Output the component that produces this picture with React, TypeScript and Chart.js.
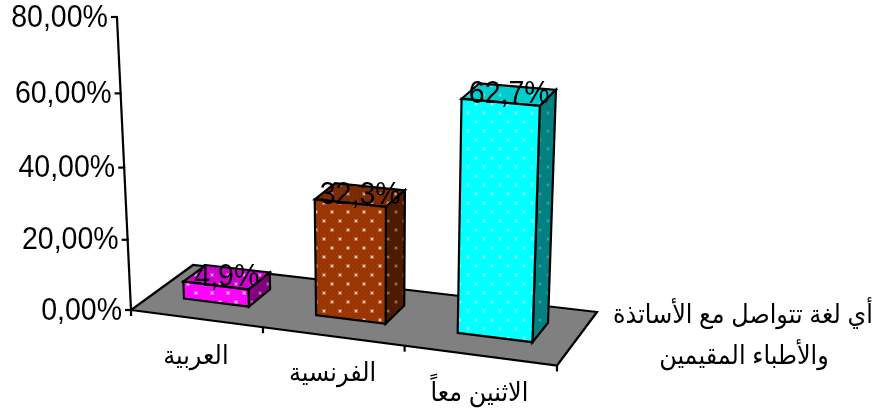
import React, { useEffect, useRef } from "react";
import { Chart, registerables } from "chart.js";

Chart.register(...registerables);

const categories = ["العربية", "الفرنسية", "الاثنين معاً"];
const shares = [4.9, 32.3, 62.7];
const barColors = ["#ff00ff", "#993300", "#00ffff"];
const dotStrengths = [0.7, 0.65, 0.38];
const axisTitleLines = ["أي لغة تتواصل مع الأساتذة", "والأطباء المقيمين"];

const LATIN_FONT = "31px 'Liberation Sans', Arial, sans-serif";
const ARABIC_FONT = "26px 'Liberation Sans', 'DejaVu Sans', sans-serif";
const TEXT_NARROWING = 0.92;
const INK = "#000000";

// Corners of the floor on screen, and the point vertical edges converge on.
const FLOOR = {
  frontLeft: [131, 310],
  frontRight: [557, 365.5],
  backLeft: [193, 265],
  backRight: [597, 312],
};
const AXIS_HEIGHT = 293;
const HEIGHT_FORESHORTENING = -0.0544;
const VERTICAL_VANISH = [375, 5400];
const BAR_DEPTH: [number, number] = [0.33, 0.7];

type Pt = [number, number];

// Perspective map of the floor, with heights raised towards the vanishing point.
// Inputs are (across, up, depth), each in 0..1.
function buildProjection() {
  const { frontLeft: p0, frontRight: p1, backLeft: p2, backRight: p3 } = FLOOR;
  const dx1 = p1[0] - p3[0];
  const dx2 = p2[0] - p3[0];
  const dy1 = p1[1] - p3[1];
  const dy2 = p2[1] - p3[1];
  const sx = p0[0] - p1[0] + p3[0] - p2[0];
  const sy = p0[1] - p1[1] + p3[1] - p2[1];
  const den = dx1 * dy2 - dx2 * dy1;
  const g = (sx * dy2 - dx2 * sy) / den;
  const h = (dx1 * sy - sx * dy1) / den;
  const a = p1[0] - p0[0] + g * p1[0];
  const b = p2[0] - p0[0] + h * p2[0];
  const d = p1[1] - p0[1] + g * p1[1];
  const e = p2[1] - p0[1] + h * p2[1];
  const c = HEIGHT_FORESHORTENING;
  return (u: number, v: number, w: number): Pt => {
    const q = g * u + h * w + 1;
    const x = (a * u + b * w + p0[0]) / q;
    const y = (d * u + e * w + p0[1]) / q;
    const eased = (v * (1 + c)) / (1 + c * v);
    const rise = AXIS_HEIGHT * eased * (1 + 0.06 * u - 0.04 * w);
    const lean = (x - VERTICAL_VANISH[0]) / (VERTICAL_VANISH[1] - y);
    return [x + lean * rise, y - rise];
  };
}

function shade(hex: string, factor: number) {
  const n = parseInt(hex.slice(1), 16);
  const c = [(n >> 16) & 255, (n >> 8) & 255, n & 255].map((x) => Math.round(x * factor));
  return `rgb(${c[0]},${c[1]},${c[2]})`;
}

// Dotted hatch used on every face of a bar: soft light dots over a faint dither.
function dottedFill(ctx: CanvasRenderingContext2D, color: string, alpha: number) {
  const tile = document.createElement("canvas");
  tile.width = 16;
  tile.height = 18;
  const t = tile.getContext("2d")!;
  t.fillStyle = color;
  t.fillRect(0, 0, 16, 18);
  t.fillStyle = `rgba(255,255,255,${alpha * 0.14})`;
  for (let y = 0; y < 18; y += 2) {
    for (let x = y % 4 === 0 ? 0 : 2; x < 16; x += 4) t.fillRect(x, y, 1, 1);
  }
  [[3, 4], [11, 13]].forEach(([x, y]) => {
    t.fillStyle = `rgba(255,255,255,${alpha * 0.4})`;
    t.fillRect(x - 1, y - 1, 4, 4);
    t.fillStyle = `rgba(255,255,255,${alpha})`;
    t.fillRect(x, y, 2, 2);
  });
  return ctx.createPattern(tile, "repeat")!;
}

function polygon(ctx: CanvasRenderingContext2D, pts: Pt[], fill: CanvasPattern | string | null) {
  ctx.beginPath();
  pts.forEach((p, i) => (i ? ctx.lineTo(p[0], p[1]) : ctx.moveTo(p[0], p[1])));
  ctx.closePath();
  if (fill) {
    ctx.fillStyle = fill;
    ctx.fill();
  }
  ctx.stroke();
}

function segment(ctx: CanvasRenderingContext2D, a: Pt, b: Pt) {
  ctx.beginPath();
  ctx.moveTo(a[0], a[1]);
  ctx.lineTo(b[0], b[1]);
  ctx.stroke();
}

// All text is set slightly narrow, anchored at the given point.
function narrowText(ctx: CanvasRenderingContext2D, text: string, x: number, y: number) {
  ctx.save();
  ctx.translate(x, y);
  ctx.scale(TEXT_NARROWING, 1);
  ctx.fillText(text, 0, 0);
  ctx.restore();
}

const perspectivePlugin = {
  id: "perspectiveBars",
  beforeDatasetsDraw(chart: any) {
    const { ctx, chartArea, scales } = chart;
    const project = buildProjection();
    const toU = (px: number) => (px - chartArea.left) / (chartArea.right - chartArea.left);
    const toV = (py: number) => (chartArea.bottom - py) / (chartArea.bottom - chartArea.top);
    const meta = chart.getDatasetMeta(0);

    ctx.save();
    ctx.strokeStyle = INK;
    ctx.lineWidth = 2.2;
    ctx.lineJoin = "miter";

    // Floor
    polygon(
      ctx,
      [project(0, 0, 0), project(1, 0, 0), project(1, 0, 1), project(0, 0, 1)],
      "#808080"
    );

    // Bars, front face plus the visible top and right faces
    meta.data.forEach((bar: any, i: number) => {
      const props = bar.getProps(["x", "y", "width"], true);
      const u0 = toU(props.x - props.width / 2);
      const u1 = toU(props.x + props.width / 2);
      const v = toV(props.y);
      const [w0, w1] = BAR_DEPTH;
      const color = chart.data.datasets[0].backgroundColor[i];
      const dots = dotStrengths[i];
      polygon(
        ctx,
        [project(u0, v, w0), project(u1, v, w0), project(u1, v, w1), project(u0, v, w1)],
        dottedFill(ctx, shade(color, 0.8), dots * 0.7)
      );
      polygon(
        ctx,
        [project(u1, 0, w0), project(u1, 0, w1), project(u1, v, w1), project(u1, v, w0)],
        dottedFill(ctx, shade(color, 0.5), dots * 0.45)
      );
      polygon(
        ctx,
        [project(u0, 0, w0), project(u1, 0, w0), project(u1, v, w0), project(u0, v, w0)],
        dottedFill(ctx, color, dots)
      );
    });

    // Value axis with its ticks and labels
    segment(ctx, project(0, 0, 0), project(0, 1, 0));
    ctx.font = LATIN_FONT;
    ctx.fillStyle = INK;
    ctx.textAlign = "right";
    ctx.textBaseline = "middle";
    scales.y.ticks.forEach((tick: any) => {
      const p = project(0, toV(scales.y.getPixelForValue(tick.value)), 0);
      segment(ctx, [p[0] - 6, p[1]], [p[0] + 1, p[1]]);
      narrowText(ctx, tick.label, p[0] - 9, p[1] + 1);
    });

    // Category ticks and labels along the front edge of the floor
    const slots = categories.length;
    for (let i = 0; i <= slots; i++) {
      const p = project(i / slots, 0, 0);
      segment(ctx, p, [p[0], p[1] + 6]);
    }
    ctx.font = ARABIC_FONT;
    ctx.textAlign = "center";
    scales.x.ticks.forEach((_: any, i: number) => {
      const p = project(toU(scales.x.getPixelForTick(i)), 0, 0);
      narrowText(ctx, categories[i], p[0], p[1] + 38);
    });

    // Axis title, to the right of the floor
    scales.x.options.title.text.forEach((line: string, i: number) => {
      narrowText(ctx, line, i === 0 ? 743 : 744, 316 + i * 41);
    });

    // Value labels sit on the centre of each top face
    ctx.font = LATIN_FONT;
    meta.data.forEach((bar: any, i: number) => {
      const props = bar.getProps(["x", "y"], true);
      const p = project(toU(props.x), toV(props.y), 0.5);
      narrowText(ctx, `${String(shares[i]).replace(".", ",")}%`, p[0] + 1, p[1]);
    });

    ctx.restore();
    return false;
  },
};

export default function App() {
  const canvasRef = useRef<HTMLCanvasElement>(null);

  useEffect(() => {
    const chart = new Chart(canvasRef.current!, {
      type: "bar",
      data: {
        labels: categories,
        datasets: [
          {
            data: shares,
            backgroundColor: barColors,
            barPercentage: 0.5,
            categoryPercentage: 1,
          },
        ],
      },
      options: {
        animation: false,
        responsive: false,
        layout: { padding: { left: 131, right: 321, top: 17, bottom: 100 } },
        plugins: { legend: { display: false }, tooltip: { enabled: false } },
        scales: {
          x: { display: false, title: { text: axisTitleLines } },
          y: {
            display: false,
            min: 0,
            max: 80,
            ticks: {
              stepSize: 20,
              callback: (value: any) => `${Number(value).toFixed(2).replace(".", ",")}%`,
            },
          },
        },
      },
      plugins: [perspectivePlugin],
    } as any);
    return () => chart.destroy();
  }, []);

  return (
    <div style={{ position: "absolute", left: 0, top: 0, width: 878, height: 410, background: "#fff" }}>
      <canvas ref={canvasRef} width={878} height={410} style={{ display: "block" }} />
    </div>
  );
}
